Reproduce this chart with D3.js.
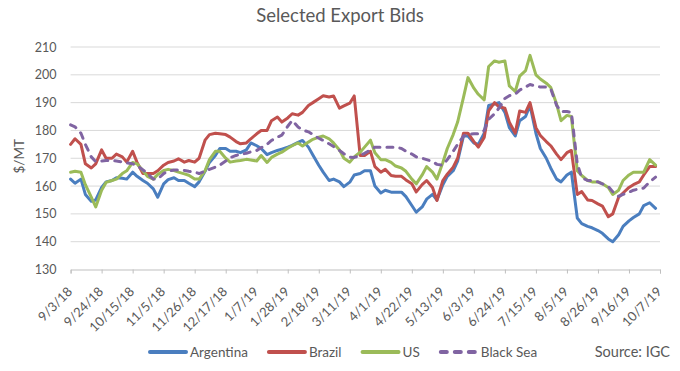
<!DOCTYPE html>
<html>
<head>
<meta charset="utf-8">
<script src="https://cdn.jsdelivr.net/npm/d3@7"></script>
<style>
  body { margin: 0; background: #fff; }
  svg { display: block; font-family: Lato, "Open Sans", sans-serif; }
</style>
</head>
<body>
<svg id="chart" width="680" height="371"></svg>
<script>
// Dates sampled twice a week (Mon / Thu)
const dates = [
  "9/3/18","9/6/18","9/10/18","9/13/18","9/17/18","9/20/18","9/24/18","9/27/18","10/1/18","10/4/18",
  "10/8/18","10/11/18","10/15/18","10/18/18","10/22/18","10/25/18","10/29/18","11/1/18","11/5/18","11/8/18",
  "11/12/18","11/15/18","11/19/18","11/22/18","11/26/18","11/29/18","12/3/18","12/6/18","12/10/18","12/13/18",
  "12/17/18","12/20/18","12/24/18","12/27/18","12/31/18","1/3/19","1/7/19","1/10/19","1/14/19","1/17/19",
  "1/21/19","1/24/19","1/28/19","1/31/19","2/4/19","2/7/19","2/11/19","2/14/19","2/18/19","2/21/19",
  "2/25/19","2/28/19","3/4/19","3/7/19","3/11/19","3/14/19","3/18/19","3/21/19","3/25/19","3/28/19",
  "4/1/19","4/4/19","4/8/19","4/11/19","4/15/19","4/18/19","4/22/19","4/25/19","4/29/19","5/2/19",
  "5/6/19","5/9/19","5/13/19","5/16/19","5/20/19","5/23/19","5/27/19","5/30/19","6/3/19","6/6/19",
  "6/10/19","6/13/19","6/17/19","6/20/19","6/24/19","6/27/19","7/1/19","7/4/19","7/8/19","7/11/19",
  "7/15/19","7/18/19","7/22/19","7/25/19","7/29/19","8/1/19","8/5/19","8/8/19","8/12/19","8/15/19",
  "8/19/19","8/22/19","8/26/19","8/29/19","9/2/19","9/5/19","9/9/19","9/12/19","9/16/19","9/19/19",
  "9/23/19","9/26/19","9/30/19","10/4/19"
];

const argentina = [
  162.5,161,162.5,157,154.5,155,159.5,161.5,162,163,162.8,162.5,165,163.5,162,161,159,156,160.8,162.3,
  163,162,162,161,159.8,161.5,165.3,168.5,171,173.5,173.5,172.5,172.5,172,173,175.5,174.5,173.5,171.3,172,
  172.8,173.3,174,174.6,175.7,176.4,174,171.2,167.5,165,162,162.5,161.5,159.8,161.4,164,164.5,165.5,165.5,160,
  157.5,158.5,157.8,157.8,157.8,156.2,153,150.6,152.5,155.3,157,155,160.5,163.5,165.5,169,178,178,175.5,175,
  179,189,189.5,190,186.5,181,178,183.5,185,189,179,173.5,170,166.5,162.5,161.5,164,165,148.5,146.5,
  145.5,145,144,143,141,140,142.5,145.5,147.5,148.7,150,153,154,152
];
const brazil = [
  175,177,175,168,166.5,168,173,170,170,171.5,170.5,168.6,172.5,168.5,164.5,164.5,164.5,165.5,167.5,168.5,
  169,169.8,168.6,169.2,168.6,170,176.5,178.5,179,178.8,178.5,177.6,176,175.2,175.5,177,178.8,180,180,183.5,
  184.8,183,184.5,186,185.5,186.5,189,190,191.4,192.5,192,192.4,188,188.8,189.8,192.4,171,171,172.5,167,
  165,166,163.8,163.5,163.5,162.2,160.8,157.9,160.5,162,159.5,154.8,162,164.3,166.8,170,179,179,176,174,
  177.5,187,190,188.5,188,183,179,187,186.5,190,181,178.2,176,174.5,171.5,169.5,172,172.8,157,158,
  155,154.8,153.6,152.8,149,150,156,157.5,159.5,160.5,161.5,164,167,167
];
const us = [
  165,165.3,165,160.5,156,152.5,158.5,161.3,162,162.5,164.5,165.5,168.5,168,165.5,163.5,162.5,164.2,165.6,166,
  165.6,165,164.4,163.9,162.5,162.5,165.5,169.5,172.5,172.5,170,168.6,169,169.2,169.6,169.4,169,171,168.5,170.3,
  171.5,172.2,173.6,174.5,175.5,174.4,175.8,176.8,177.6,178,177,175.5,173,170,168.6,170.5,172.2,174,176.5,172,
  169.5,169.5,168.5,167.2,166.5,165.3,162.5,160.8,164,167,165,162.5,168.5,173.5,178.5,183,192,199,195.2,193,
  191,203,205,204.5,205,196,194,199.5,201.5,207,200,198.5,197,195.5,189.5,183.5,185.4,185,165.5,163.8,
  162,161.5,161.5,160.8,159.5,157,158.5,162,164,165,165,165,169.5,167.5
];
const blackSea = [
  182,181.3,179,175,170.5,168.8,169,169.2,169.2,169,168.7,168.3,168,167.4,165.8,164.5,162.5,162.5,164.5,165.3,
  165.8,165.8,165.6,165.3,165,164.5,165.4,166,166.8,167.5,169,170.2,171,171.4,171.8,172.3,172.8,173.8,175,176.4,
  177.6,178.3,181.5,183.6,181.2,180.2,179.5,178.5,177.2,176.4,175.2,174.2,172.8,171.6,170.4,170.3,171,171.8,173,174,
  174,174,174,174,173.5,172.5,171.5,170.5,170,169.5,168.8,167.8,167.5,169.5,172.5,175,178,178.6,178.8,178.8,
  180,184,186,188,191.5,192.5,193,194.5,195.6,196.5,196,195.6,195.6,195,189,186.8,186.8,186.5,168,163,
  162,162,161.5,160.8,159.8,158,156.3,157,157.8,158.5,159,159.3,161.5,163.2
];

const seriesNames = ["Argentina", "Brazil", "US", "Black Sea"];
const xTickLabels = ["9/3/18","9/24/18","10/15/18","11/5/18","11/26/18","12/17/18","1/7/19","1/28/19","2/18/19",
  "3/11/19","4/1/19","4/22/19","5/13/19","6/3/19","6/24/19","7/15/19","8/5/19","8/26/19","9/16/19","10/7/19"];
const yTicks = [130, 140, 150, 160, 170, 180, 190, 200, 210];

const parse = d3.timeParse("%m/%d/%y");
const seriesValues = [argentina, brazil, us, blackSea];
const colors = ["#4a7ebf", "#c0504d", "#9bbb59", "#8064a2"];
const textColor = "#595959";

const svg = d3.select("#chart");
const width = 680, height = 371;
const margin = { left: 70.6, right: 20, top: 47, bottom: 101.5 };

const x = d3.scaleTime()
  .domain([parse("9/3/18"), parse("10/7/19")])
  .range([margin.left, width - margin.right]);
const y = d3.scaleLinear()
  .domain([130, 210])
  .range([height - margin.bottom, margin.top]);

// Title
svg.append("text")
  .attr("x", 340)
  .attr("y", 22)
  .attr("text-anchor", "middle")
  .attr("fill", textColor)
  .style("font-size", "18.5px")
  .text("Selected Export Bids");

// Gridlines
svg.append("g")
  .selectAll("line")
  .data(yTicks.filter(d => d > 130))
  .join("line")
  .attr("x1", x.range()[0])
  .attr("x2", x.range()[1])
  .attr("y1", d => y(d))
  .attr("y2", d => y(d))
  .attr("stroke", "#d9d9d9")
  .attr("stroke-width", 1);

// Y axis labels
const yAxis = svg.append("g")
  .attr("transform", `translate(${margin.left},0)`)
  .call(d3.axisLeft(y).tickValues(yTicks).tickSize(0).tickPadding(14));
yAxis.select(".domain").remove();
yAxis.selectAll("text")
  .attr("fill", textColor)
  .style("font-size", "12.5px")
  .style("font-family", "Lato, sans-serif");

svg.append("text")
  .attr("transform", `translate(24, ${(y(130) + y(210)) / 2 - 2}) rotate(-90)`)
  .attr("text-anchor", "middle")
  .attr("fill", textColor)
  .style("font-size", "13.5px")
  .text("$/MT");

// X axis
const xAxis = svg.append("g")
  .attr("transform", `translate(0,${y(130)})`)
  .call(d3.axisBottom(x)
    .tickValues(xTickLabels.map(parse))
    .tickSize(4)
    .tickFormat(d3.timeFormat("%-m/%-d/%y")));
xAxis.select(".domain").attr("stroke", "#bfbfbf");
xAxis.selectAll(".tick line").attr("stroke", "#bfbfbf");
xAxis.selectAll("text")
  .attr("fill", textColor)
  .style("font-size", "13px")
  .style("font-family", "Lato, sans-serif")
  .attr("text-anchor", "end")
  .attr("x", 0)
  .attr("y", 0)
  .attr("dx", 0)
  .attr("dy", 0)
  .attr("transform", "translate(2,23) rotate(-45)");

// Lines
const line = d3.line()
  .x((d, i) => x(parse(dates[i])))
  .y(d => y(d));

seriesValues.forEach((vals, i) => {
  svg.append("path")
    .datum(vals)
    .attr("fill", "none")
    .attr("stroke", colors[i])
    .attr("stroke-width", 3)
    .attr("stroke-linejoin", "round")
    .attr("stroke-linecap", "round")
    .attr("stroke-dasharray", i === 3 ? "6,7" : null)
    .attr("d", line);
});

// Legend
const legend = svg.append("g").attr("transform", "translate(148,352)");
let lx = 0;
seriesNames.forEach((name, i) => {
  const g = legend.append("g").attr("transform", `translate(${lx},0)`);
  g.append("line")
    .attr("x1", 2).attr("x2", 38)
    .attr("y1", 0).attr("y2", 0)
    .attr("stroke", colors[i])
    .attr("stroke-width", 4)
    .attr("stroke-linecap", "round")
    .attr("stroke-dasharray", i === 3 ? "6,8" : null);
  const t = g.append("text")
    .attr("x", 42)
    .attr("dy", "0.35em")
    .attr("fill", textColor)
    .style("font-size", "13.5px")
    .text(name);
  lx += 42 + t.node().getComputedTextLength() + 19;
});

svg.append("text")
  .attr("x", 670)
  .attr("y", 357)
  .attr("text-anchor", "end")
  .attr("fill", textColor)
  .style("font-size", "14.5px")
  .text("Source: IGC");
</script>
</body>
</html>
